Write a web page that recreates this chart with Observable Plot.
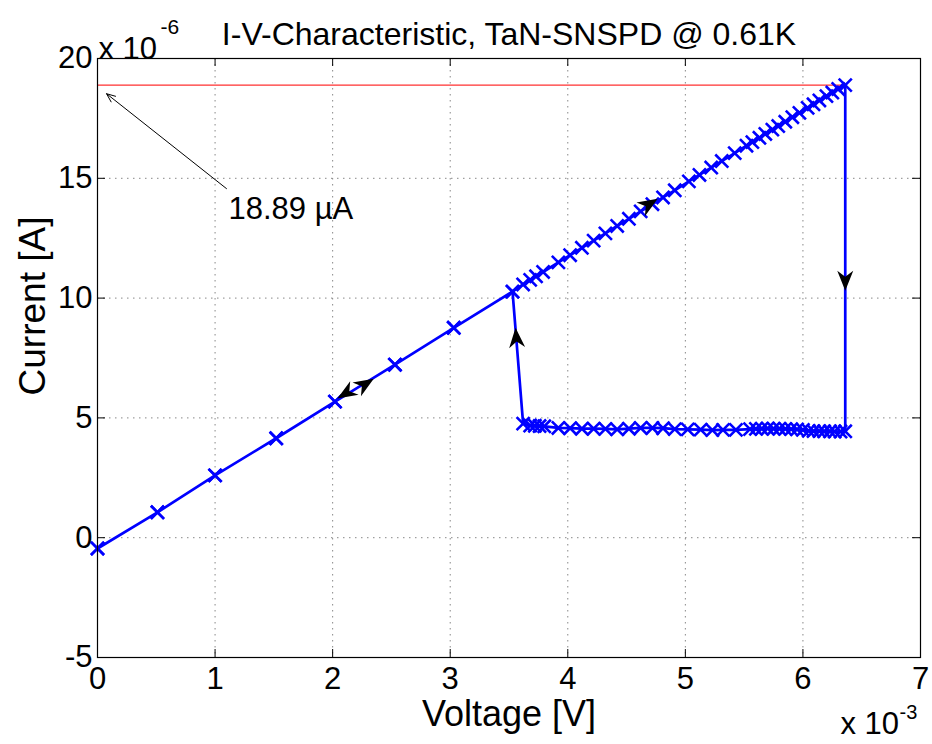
<!DOCTYPE html>
<html><head><meta charset="utf-8">
<script src="https://cdn.jsdelivr.net/npm/d3@7"></script>
<script src="https://cdn.jsdelivr.net/npm/@observablehq/plot@0.6"></script>
<style>body{margin:0;background:#fff}</style>
</head><body><div id="chart"></div>
<script>
// ---- data (voltage in mV, current in µA) ----
const upV = [0, 0.51, 1.0, 1.52, 2.02, 2.53, 3.03, 3.53, 3.62, 3.68, 3.73, 3.79, 3.92, 4.02, 4.12, 4.22, 4.32, 4.42, 4.52, 4.62, 4.72, 4.81, 4.91, 5.03, 5.12, 5.22, 5.31, 5.42, 5.52, 5.57, 5.63, 5.68, 5.74, 5.79, 5.85, 5.91, 5.97, 6.04, 6.09, 6.14, 6.20, 6.25, 6.30, 6.36];
const upI = [-0.45, 1.06, 2.6, 4.15, 5.68, 7.22, 8.76, 10.27, 10.57, 10.76, 10.91, 11.09, 11.49, 11.79, 12.10, 12.40, 12.70, 13.01, 13.31, 13.62, 13.92, 14.20, 14.50, 14.87, 15.14, 15.45, 15.72, 16.05, 16.36, 16.51, 16.69, 16.85, 17.03, 17.18, 17.36, 17.55, 17.73, 17.94, 18.09, 18.25, 18.43, 18.58, 18.73, 18.89];
const lowV = [6.36, 6.32, 6.27, 6.23, 6.18, 6.14, 6.09, 6.05, 6.00, 5.95, 5.90, 5.85, 5.80, 5.75, 5.70, 5.65, 5.60, 5.55, 5.43, 5.32, 5.23, 5.13, 5.02, 4.91, 4.81, 4.72, 4.62, 4.52, 4.42, 4.32, 4.22, 4.12, 4.02, 3.92, 3.80, 3.76, 3.72, 3.68, 3.62];
const lowI = [4.44, 4.43, 4.43, 4.44, 4.44, 4.45, 4.45, 4.46, 4.50, 4.52, 4.53, 4.54, 4.55, 4.55, 4.56, 4.55, 4.54, 4.53, 4.50, 4.50, 4.49, 4.51, 4.52, 4.53, 4.57, 4.58, 4.58, 4.55, 4.52, 4.54, 4.55, 4.55, 4.57, 4.58, 4.65, 4.66, 4.67, 4.68, 4.76];
const xTicks = [0, 1, 2, 3, 4, 5, 6, 7];
const xTickLabels = ["0", "1", "2", "3", "4", "5", "6", "7"];
const yTicks = [-5, 0, 5, 10, 15, 20];
const yTickLabels = ["-5", "0", "5", "10", "15", "20"];
const criticalI = 18.89;
const criticalV = [0, 6.36];
const noteLabel = "18.89 µA";
const noteTail = [1.097, 14.57];
const noteHead = [0.077, 18.53];
const notePos = [1.114, 13.73];
// direction arrowheads on the curve
const arrowV = [3.563, 6.36, 4.685, 2.12, 2.27];
const arrowI = [8.31, 10.77, 13.9, 6.05, 6.39];
const arrowDV = [-0.09, 0, 1, -1, 1];
const arrowDI = [5.51, -1, 3.045, -3.045, 3.045];
const titleText = "I-V-Characteristic, TaN-SNSPD @ 0.61K";
const xLabel = "Voltage [V]";
const yLabel = "Current [A]";

// ---- build tables ----
const up = upV.map((v, i) => ({v, i: upI[i]}));
const low = lowV.map((v, i) => ({v, i: lowI[i]}));
const back = up.slice(0, 8).reverse();
const path = [...up, ...low, ...back];
const critical = criticalV.map(v => ({v, i: criticalI}));
const arrows = arrowV.map((v, k) => ({v, i: arrowI[k], dv: arrowDV[k], di: arrowDI[k]}));

const W = 932, H = 744, mL = 97, mR = 12, mT = 58, mB = 87;
const fw = W - mL - mR, fh = H - mT - mB;
const font = "'Liberation Sans', Arial, Helvetica, sans-serif";

const arrowHead = {draw(ctx) {
  ctx.moveTo(0, -11); ctx.lineTo(8, 9); ctx.lineTo(0, 3); ctx.lineTo(-8, 9); ctx.closePath();
}};

function makePlot(rot) {
  return Plot.plot({
    width: W, height: H,
    marginLeft: mL, marginRight: mR, marginTop: mT, marginBottom: mB,
    x: {domain: [0, 7], axis: null},
    y: {domain: [-5, 20], axis: null},
    style: {fontFamily: font, fontSize: "31px", color: "black", background: "white", overflow: "visible"},
    marks: [
      Plot.gridX(xTicks, {stroke: "#888", strokeOpacity: 1, strokeDasharray: "1.5,4.5"}),
      Plot.gridY(yTicks, {stroke: "#888", strokeOpacity: 1, strokeDasharray: "1.5,4.5"}),
      Plot.line(critical, {x: "v", y: "i", stroke: "#ff3030", strokeWidth: 1.2}),
      Plot.line(path, {x: "v", y: "i", stroke: "#0000ff", strokeWidth: 2.7}),
      Plot.dot(path, {x: "v", y: "i", symbol: "times", r: 6, stroke: "#0000ff", strokeWidth: 2.6}),
      Plot.dot(arrows, {x: "v", y: "i", symbol: arrowHead, rotate: (d, k) => rot[k], fill: "black", stroke: "none"}),
      Plot.arrow([0], {x1: () => noteTail[0], y1: () => noteTail[1], x2: () => noteHead[0], y2: () => noteHead[1],
        stroke: "black", strokeWidth: 1, headLength: 14, headAngle: 45}),
      Plot.text([noteLabel], {x: () => notePos[0], y: () => notePos[1], text: d => d, textAnchor: "start", fontSize: 31}),
      // inward ticks on all four sides
      Plot.ruleX(xTicks, {insetTop: fh - 8, stroke: "black"}),
      Plot.ruleX(xTicks, {insetBottom: fh - 8, stroke: "black"}),
      Plot.ruleY(yTicks, {insetRight: fw - 8, stroke: "black"}),
      Plot.ruleY(yTicks, {insetLeft: fw - 8, stroke: "black"}),
      Plot.frame({stroke: "black", strokeWidth: 1.2}),
      Plot.axisX(xTicks, {tickSize: 0, tickPadding: 9, label: null, fontSize: 31,
        tickFormat: d => xTickLabels[xTicks.indexOf(d)]}),
      Plot.axisY(yTicks, {tickSize: 0, tickPadding: 5, label: null, fontSize: 31,
        tickFormat: d => yTickLabels[yTicks.indexOf(d)]}),
      Plot.text([titleText], {frameAnchor: "top", dy: -36, text: d => d, fontSize: 32}),
      Plot.text([xLabel], {frameAnchor: "bottom", dy: 68, text: d => d, fontSize: 36}),
      Plot.text([yLabel], {frameAnchor: "left", dx: -64, dy: -52, rotate: -90, textAnchor: "middle", text: d => d, fontSize: 37}),
      Plot.text(["x 10"], {frameAnchor: "top-left", dx: 1, dy: -22, textAnchor: "start", text: d => d, fontSize: 31}),
      Plot.text(["-6"], {frameAnchor: "top-left", dx: 63, dy: -39, textAnchor: "start", text: d => d, fontSize: 21}),
      Plot.text(["x 10"], {frameAnchor: "bottom-right", dx: -80, dy: 76, textAnchor: "start", text: d => d, fontSize: 31}),
      Plot.text(["-3"], {frameAnchor: "bottom-right", dx: -21, dy: 61, textAnchor: "start", text: d => d, fontSize: 20})
    ]
  });
}

const probe = makePlot(arrows.map(() => 0));
const sx = probe.scale("x"), sy = probe.scale("y");
const rot = arrows.map(a => {
  const dx = sx.apply(a.v + a.dv) - sx.apply(a.v);
  const dy = sy.apply(a.i + a.di) - sy.apply(a.i);
  return Math.atan2(dx, -dy) * 180 / Math.PI;
});
document.getElementById("chart").append(makePlot(rot));
</script>
</body></html>
